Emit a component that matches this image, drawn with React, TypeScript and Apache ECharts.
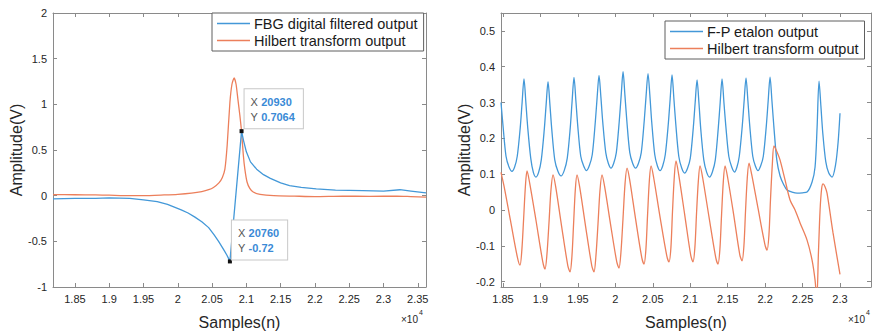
import React, { useEffect, useRef } from 'react';
import * as echarts from 'echarts';

// ---------- Left panel: FBG digital filtered output & Hilbert transform ----------
const fbgX = [18180, 18500, 18800, 19000, 19300, 19500, 19700, 19850, 19950, 20050, 20150, 20250, 20350, 20450, 20530, 20595, 20640, 20680, 20715, 20745, 20760, 20930, 20960, 21000, 21060, 21150, 21250, 21350, 21500, 21630, 21800, 22020, 22300, 22700, 23000, 23240, 23400, 23620];
const fbgY = [-0.035, -0.03, -0.03, -0.025, -0.03, -0.045, -0.065, -0.095, -0.125, -0.155, -0.19, -0.235, -0.285, -0.35, -0.43, -0.5, -0.555, -0.605, -0.65, -0.695, -0.72, 0.7064, 0.6, 0.48, 0.37, 0.29, 0.23, 0.19, 0.14, 0.11, 0.09, 0.075, 0.06, 0.055, 0.05, 0.065, 0.05, 0.03];

const hilLX = [18180, 18500, 18800, 19000, 19300, 19500, 19800, 20000, 20200, 20350, 20450, 20520, 20600, 20650, 20687, 20720, 20760, 20790, 20822, 20850, 20876, 20905, 20930, 20955, 20978, 21010, 21050, 21100, 21200, 21400, 21700, 22000, 22400, 22800, 23200, 23400, 23620];
const hilLY = [0.012, 0.01, 0.008, 0.005, 0.0, 0.0, 0.008, 0.015, 0.028, 0.045, 0.065, 0.09, 0.14, 0.2, 0.29, 0.55, 1.02, 1.22, 1.29, 1.22, 1.06, 0.88, 0.7, 0.45, 0.29, 0.15, 0.08, 0.04, 0.015, 0.0, -0.005, -0.01, -0.005, -0.008, -0.005, -0.01, -0.015];

// data tips on the FBG curve
const tipX = [20930, 20760];
const tipY = [0.7064, -0.72];

// ---------- Right panel: F-P etalon output & Hilbert transform ----------
const fpX = [18473, 18500, 18540, 18580, 18620, 18655,
  18690, 18730, 18755, 18780, 18805, 18830, 18870, 18905, 18940, 18975,
  19011, 19051, 19076, 19101, 19126, 19151, 19191, 19233, 19275, 19317,
  19358, 19398, 19423, 19448, 19473, 19498, 19538, 19577, 19615, 19653,
  19692, 19732, 19757, 19782, 19807, 19832, 19872, 19907, 19942, 19977,
  20013, 20053, 20078, 20103, 20128, 20153, 20193, 20232, 20270, 20308,
  20346, 20386, 20411, 20436, 20461, 20486, 20526, 20562, 20597, 20632,
  20667, 20707, 20732, 20757, 20782, 20807, 20847, 20886, 20925, 20963,
  21001, 21041, 21066, 21091, 21116, 21141, 21181, 21220, 21258, 21297,
  21335, 21375, 21400, 21425, 21450, 21475, 21515, 21554, 21592, 21624,
  21655, 21695, 21720, 21745, 21770, 21795, 21835, 21870, 21905, 21940,
  21976, 22016, 22041, 22066, 22091, 22116, 22156, 22200, 22250, 22293, 22360, 22427, 22500, 22560, 22627, 22667, 22694, 22720, 22745, 22770, 22810, 22850, 22894, 22940, 22975, 23000];
const fpY = [0.30, 0.235, 0.15, 0.12, 0.108, 0.12,
  0.15, 0.23, 0.30, 0.366, 0.30, 0.23, 0.145, 0.105, 0.092, 0.105,
  0.14, 0.225, 0.295, 0.358, 0.295, 0.225, 0.14, 0.108, 0.095, 0.11,
  0.145, 0.23, 0.305, 0.370, 0.305, 0.235, 0.15, 0.123, 0.11, 0.124,
  0.155, 0.245, 0.315, 0.376, 0.315, 0.245, 0.16, 0.13, 0.117, 0.13,
  0.16, 0.25, 0.32, 0.386, 0.32, 0.25, 0.16, 0.13, 0.117, 0.13,
  0.16, 0.25, 0.32, 0.381, 0.32, 0.245, 0.155, 0.123, 0.11, 0.123,
  0.155, 0.24, 0.31, 0.377, 0.31, 0.24, 0.15, 0.117, 0.103, 0.116,
  0.145, 0.23, 0.30, 0.363, 0.30, 0.225, 0.14, 0.105, 0.092, 0.107,
  0.14, 0.23, 0.30, 0.366, 0.30, 0.235, 0.15, 0.12, 0.106, 0.12,
  0.15, 0.235, 0.305, 0.369, 0.305, 0.235, 0.15, 0.123, 0.11, 0.123,
  0.15, 0.235, 0.305, 0.371, 0.305, 0.235, 0.14, 0.095, 0.07, 0.056, 0.05, 0.047, 0.048, 0.05, 0.078, 0.12, 0.23, 0.36, 0.29, 0.215, 0.135, 0.103, 0.092, 0.125, 0.19, 0.27];

const hilRX = [18473, 18520, 18600, 18690, 18727, 18752, 18775, 18800, 18821, 18856, 18941, 19031, 19061, 19086, 19114, 19140, 19168, 19203, 19282, 19365, 19395, 19420, 19442, 19465, 19488, 19523, 19602, 19685, 19715, 19740, 19768, 19795, 19822, 19857, 19936, 20019, 20049, 20074, 20102, 20130, 20156, 20191, 20270, 20353, 20383, 20408, 20430, 20455, 20477, 20512, 20597, 20687, 20717, 20742, 20763, 20788, 20810, 20845, 20924, 21007, 21037, 21062, 21084, 21108, 21131, 21166, 21251, 21341, 21371, 21396, 21418, 21442, 21465, 21500, 21578, 21662, 21692, 21717, 21738, 21762, 21785, 21820, 21905, 21996, 22026, 22051, 22072, 22097, 22119, 22159, 22199, 22266, 22333, 22400, 22467, 22560, 22627, 22667, 22690, 22712, 22734, 22755, 22774, 22800, 22827, 22907, 23000];
const hilRY = [0.105, 0.06, -0.03, -0.13, -0.154, -0.11, -0.025, 0.07, 0.109, 0.075, -0.03, -0.145, -0.165, -0.125, -0.035, 0.055, 0.098, 0.065, -0.045, -0.155, -0.173, -0.13, -0.04, 0.055, 0.098, 0.065, -0.045, -0.155, -0.173, -0.13, -0.04, 0.055, 0.098, 0.065, -0.04, -0.145, -0.162, -0.12, -0.025, 0.075, 0.117, 0.085, -0.025, -0.133, -0.151, -0.11, -0.015, 0.085, 0.123, 0.09, -0.02, -0.128, -0.145, -0.105, -0.005, 0.095, 0.137, 0.10, -0.01, -0.127, -0.145, -0.105, -0.01, 0.08, 0.123, 0.09, -0.02, -0.133, -0.151, -0.11, -0.015, 0.08, 0.123, 0.09, -0.01, -0.125, -0.142, -0.10, -0.005, 0.09, 0.131, 0.10, 0.005, -0.095, -0.112, -0.07, 0.03, 0.13, 0.179, 0.162, 0.14, 0.084, 0.028, 0.0, -0.036, -0.084, -0.14, -0.196, -0.25, -0.12, 0.0, 0.06, 0.073, 0.065, 0.047, -0.064, -0.18];

// ---------- Ticks ----------
const leftXTicks = [18500, 19000, 19500, 20000, 20500, 21000, 21500, 22000, 22500, 23000, 23500];
const leftYTicks = [-1, -0.5, 0, 0.5, 1, 1.5, 2];
const rightXTicks = [18500, 19000, 19500, 20000, 20500, 21000, 21500, 22000, 22500, 23000];
const rightYTicks = [-0.2, -0.1, 0, 0.1, 0.2, 0.3, 0.4, 0.5];

const BLUE = '#4398d8';
const ORANGE = '#ec7f5b';
const AXIS = '#8a8a8a';
const TXT = '#262626';
const FONT = '"Liberation Sans", Arial, sans-serif';

function zip(xs: number[], ys: number[]) {
  const n = Math.min(xs.length, ys.length);
  const out: number[][] = [];
  for (let i = 0; i < n; i++) out.push([xs[i], ys[i]]);
  return out;
}

function xAxes(gridIndex: number, min: number, max: number, ticks: number[]) {
  const tick = { show: true, inside: true, length: 4, customValues: ticks, lineStyle: { color: AXIS } };
  const line = { show: true, onZero: false, lineStyle: { color: AXIS, width: 1 } };
  return [
    {
      type: 'value', gridIndex, min, max, position: 'bottom',
      name: 'Samples(n)', nameLocation: 'middle', nameGap: 27,
      nameTextStyle: { fontSize: 16, color: TXT, fontFamily: FONT },
      axisLine: line, axisTick: tick, splitLine: { show: false },
      axisLabel: {
        customValues: ticks, fontSize: 11, color: TXT, margin: 6, fontFamily: FONT,
        formatter: (v: number) => String(+(v / 1e4).toFixed(2)),
      },
    },
    {
      type: 'value', gridIndex, min, max, position: 'top',
      axisLine: line, axisTick: tick, splitLine: { show: false }, axisLabel: { show: false },
    },
  ];
}

function yAxes(gridIndex: number, min: number, max: number, ticks: number[], gap: number) {
  const tick = { show: true, inside: true, length: 4, customValues: ticks, lineStyle: { color: AXIS } };
  const line = { show: true, onZero: false, lineStyle: { color: AXIS, width: 1 } };
  return [
    {
      type: 'value', gridIndex, min, max, position: 'left',
      name: 'Amplitude(V)', nameLocation: 'middle', nameGap: gap,
      nameTextStyle: { fontSize: 16, color: TXT, fontFamily: FONT },
      axisLine: line, axisTick: tick, splitLine: { show: false },
      axisLabel: {
        customValues: ticks, fontSize: 11, color: TXT, margin: 6, fontFamily: FONT,
        formatter: (v: number) => String(+v.toFixed(2)),
      },
    },
    {
      type: 'value', gridIndex, min, max, position: 'right',
      axisLine: line, axisTick: tick, splitLine: { show: false }, axisLabel: { show: false },
    },
  ];
}

const legendBase = {
  orient: 'vertical',
  icon: 'rect',
  itemGap: 2,
  itemWidth: 33,
  itemHeight: 1.5,
  backgroundColor: '#ffffff',
  borderColor: '#5f5f5f',
  borderWidth: 1,
  borderRadius: 0,
  selectedMode: false,
  textStyle: { fontSize: 14.5, color: '#1a1a1a', fontFamily: FONT, padding: [0, 0, 0, -1] },
};

export default function App() {
  const ref = useRef<HTMLDivElement>(null);
  useEffect(() => {
    if (!ref.current) return;
    const chart = echarts.init(ref.current, undefined, { renderer: 'svg' });
    const tipLabel = (i: number, pos: number[]) => ({
      coord: [tipX[i], tipY[i]],
      label: {
        position: pos,
        formatter: `{k|X} {v|${tipX[i]}}\n{k|Y} {v|${tipY[i]}}`,
      },
    });
    chart.setOption({
      animation: false,
      backgroundColor: '#ffffff',
      grid: [
        { left: 53, top: 13, width: 373, height: 275, containLabel: false },
        { left: 501, top: 13, width: 370, height: 274, containLabel: false },
      ],
      xAxis: [
        ...xAxes(0, 18180, 23620, leftXTicks),
        ...xAxes(1, 18473, 23414, rightXTicks),
      ],
      yAxis: [
        ...yAxes(0, -1, 2, leftYTicks, 26),
        ...yAxes(1, -0.215, 0.55, rightYTicks, 27),
      ],
      legend: [
        { ...legendBase, data: ['FBG digital filtered output', 'Hilbert transform output'], left: 212, top: 13, padding: [3, 6, 3, 5] },
        { ...legendBase, data: ['F-P etalon output', 'Hilbert transform output'], left: 665, top: 21, padding: [3, 6, 3, 5] },
      ],
      series: [
        {
          name: 'FBG digital filtered output', type: 'line', xAxisIndex: 0, yAxisIndex: 0,
          data: zip(fbgX, fbgY), symbol: 'none', color: BLUE,
          lineStyle: { color: BLUE, width: 1.3 }, z: 3,
          markPoint: {
            symbol: 'rect', symbolSize: 4, itemStyle: { color: '#111111' },
            label: {
              show: true, backgroundColor: '#ffffff', borderColor: '#c8c8c8', borderWidth: 1,
              padding: [5, 8, 4, 6], lineHeight: 15,
              rich: {
                k: { color: '#555555', fontSize: 11, fontFamily: FONT, lineHeight: 15 },
                v: { color: '#3a8ad6', fontSize: 11, fontWeight: 'bold', fontFamily: FONT, lineHeight: 15 },
              },
            },
            data: [tipLabel(0, [5, -40]), tipLabel(1, [4, -39])],
          },
        },
        {
          name: 'Hilbert transform output', type: 'line', xAxisIndex: 0, yAxisIndex: 0,
          data: zip(hilLX, hilLY), symbol: 'none', smooth: 0.2, color: ORANGE,
          lineStyle: { color: ORANGE, width: 1.3 }, z: 2,
        },
        {
          name: 'F-P etalon output', type: 'line', xAxisIndex: 2, yAxisIndex: 2,
          data: zip(fpX, fpY), symbol: 'none', smooth: 0.3, color: BLUE,
          lineStyle: { color: BLUE, width: 1.3 },
        },
        {
          name: 'Hilbert transform output', type: 'line', xAxisIndex: 2, yAxisIndex: 2,
          data: zip(hilRX, hilRY), symbol: 'none', smooth: 0.3, color: ORANGE,
          lineStyle: { color: ORANGE, width: 1.3 },
        },
      ],
      graphic: [
        { type: 'text', left: 401, top: 314, style: { text: '×10', fontSize: 10, fill: TXT, fontFamily: FONT } },
        { type: 'text', left: 419, top: 309, style: { text: '4', fontSize: 7, fill: TXT, fontFamily: FONT } },
        { type: 'text', left: 848, top: 314, style: { text: '×10', fontSize: 10, fill: TXT, fontFamily: FONT } },
        { type: 'text', left: 866, top: 309, style: { text: '4', fontSize: 7, fill: TXT, fontFamily: FONT } },
      ],
    });
    return () => chart.dispose();
  }, []);
  return (
    <div
      ref={ref}
      style={{ position: 'fixed', left: 0, top: 0, width: 872, height: 335, background: '#ffffff' }}
    />
  );
}
